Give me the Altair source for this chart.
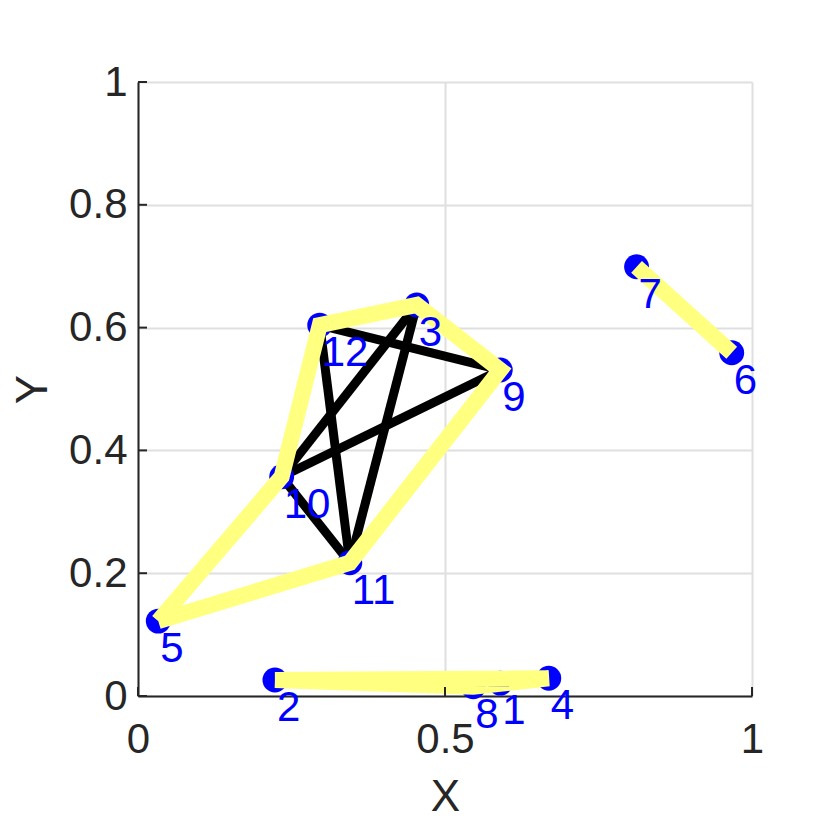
import altair as alt
import pandas as pd

# ---- data ----
node_ids = [1, 2, 3, 4, 5, 6, 7, 8, 9, 10, 11, 12]
node_x = [0.590, 0.223, 0.454, 0.669, 0.033, 0.967, 0.812, 0.546, 0.590, 0.234, 0.345, 0.296]
node_y = [0.021, 0.026, 0.637, 0.029, 0.122, 0.559, 0.699, 0.015, 0.531, 0.357, 0.217, 0.604]

black_edges = [(12, 9), (12, 11), (3, 10), (3, 11), (10, 9), (10, 11), (2, 8)]
hulls = [[5, 11, 9, 3, 12, 10, 5], [2, 8, 4, 2], [7, 6]]

x_ticks = [0, 0.5, 1]
y_ticks = [0, 0.2, 0.4, 0.6, 0.8, 1]

# ---- tables ----
pos = {i: (x, y) for i, x, y in zip(node_ids, node_x, node_y)}
nodes = pd.DataFrame({"id": node_ids, "x": node_x, "y": node_y})
edges = pd.DataFrame([
    {"x": pos[a][0], "y": pos[a][1], "x2": pos[b][0], "y2": pos[b][1]}
    for a, b in black_edges
])
hull_rows = []
for h, seq in enumerate(hulls):
    for k, n in enumerate(seq):
        hull_rows.append({"hull": h, "seq": k, "x": pos[n][0], "y": pos[n][1]})
hull_df = pd.DataFrame(hull_rows)

W = H = 614
FONT = "Liberation Sans"
TXT = "#262626"

xscale = alt.Scale(domain=[0, 1], nice=False, zero=False)
yscale = alt.Scale(domain=[0, 1], nice=False, zero=False)

xaxis = alt.Axis(values=x_ticks, format="~g", title="X", ticks=False, labelFlush=False,
                 labelPadding=23, titleY=114, titleBaseline="alphabetic")
yaxis = alt.Axis(values=y_ticks, format="~g", title="Y", ticks=False, labelFlush=False,
                 labelPadding=11, titleX=-92, titleY=H / 2, titleAngle=270,
                 titleBaseline="alphabetic", titleAlign="center")

X = alt.X("x:Q", scale=xscale, axis=xaxis, title="X")
Y = alt.Y("y:Q", scale=yscale, axis=yaxis, title="Y")

base_grid = alt.Chart(nodes).mark_point(opacity=0).encode(x=X, y=Y)

edge_layer = alt.Chart(edges).mark_rule(color="black", strokeWidth=9).encode(
    x=X, y=Y, x2="x2:Q", y2="y2:Q",
)

point_layer = alt.Chart(nodes).mark_circle(color="#0000ff", opacity=1, size=620).encode(x=X, y=Y)

hull_layer = alt.Chart(hull_df).mark_line(color="#ffff80", strokeWidth=16, strokeJoin="miter").encode(
    x=X, y=Y, detail="hull:N", order="seq:Q",
)

label_layer = alt.Chart(nodes).mark_text(
    color="#0000ff", font=FONT, fontSize=42, align="left", baseline="alphabetic", dx=2, dy=41
).encode(x=X, y=Y, text="id:N")

ytick_layer = alt.Chart(pd.DataFrame({"y": y_ticks})).mark_rule(color=TXT, strokeWidth=2).encode(
    y=Y, x=alt.value(0), x2=alt.value(9),
)
xtick_layer = alt.Chart(pd.DataFrame({"x": x_ticks})).mark_rule(color=TXT, strokeWidth=2).encode(
    x=X, y=alt.value(H), y2=alt.value(H - 9),
)

chart = alt.layer(
    base_grid, edge_layer, point_layer, hull_layer, label_layer, ytick_layer, xtick_layer
).properties(
    width=W, height=H,
    autosize=alt.AutoSizeParams(type="none"),
    padding={"left": 130, "top": 74, "right": 60, "bottom": 124},
    background="white",
).configure_view(stroke=None).configure_axis(
    labelFont=FONT, titleFont=FONT, labelFontSize=42, titleFontSize=44,
    labelColor=TXT, titleColor=TXT, titleFontWeight="normal",
    domainColor=TXT, domainWidth=2,
    gridColor="#dfdfdf", gridWidth=2,
)

chart.save("out.html", embed_options={"renderer": "svg", "actions": False})
